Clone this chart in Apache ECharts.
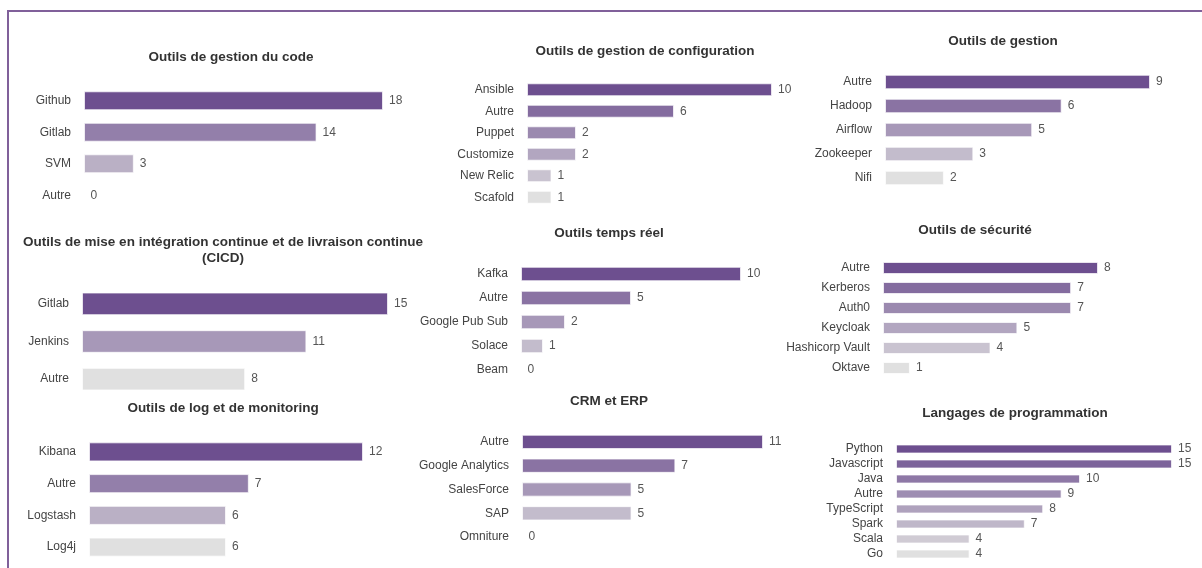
<!DOCTYPE html>
<html>
<head>
<meta charset="utf-8">
<script src="https://cdn.jsdelivr.net/npm/echarts@6/dist/echarts.min.js"></script>
<style>
html,body{margin:0;padding:0;background:#fff;}
#chart{width:1202px;height:568px;}
</style>
</head>
<body>
<div id="chart"></div>
<script>
// ---- Data ----
const titles = [
  'Outils de gestion du code',
  'Outils de gestion de configuration',
  'Outils de gestion',
  'Outils de mise en intégration continue et de livraison continue\n(CICD)',
  'Outils temps réel',
  'Outils de sécurité',
  'Outils de log et de monitoring',
  'CRM et ERP',
  'Langages de programmation'
];
const codeCats = ['Github', 'Gitlab', 'SVM', 'Autre'];
const codeVals = [18, 14, 3, 0];
const confCats = ['Ansible', 'Autre', 'Puppet', 'Customize', 'New Relic', 'Scafold'];
const confVals = [10, 6, 2, 2, 1, 1];
const gestCats = ['Autre', 'Hadoop', 'Airflow', 'Zookeeper', 'Nifi'];
const gestVals = [9, 6, 5, 3, 2];
const cicdCats = ['Gitlab', 'Jenkins', 'Autre'];
const cicdVals = [15, 11, 8];
const rtCats = ['Kafka', 'Autre', 'Google Pub Sub', 'Solace', 'Beam'];
const rtVals = [10, 5, 2, 1, 0];
const secCats = ['Autre', 'Kerberos', 'Auth0', 'Keycloak', 'Hashicorp Vault', 'Oktave'];
const secVals = [8, 7, 7, 5, 4, 1];
const logCats = ['Kibana', 'Autre', 'Logstash', 'Log4j'];
const logVals = [12, 7, 6, 6];
const crmCats = ['Autre', 'Google Analytics', 'SalesForce', 'SAP', 'Omniture'];
const crmVals = [11, 7, 5, 5, 0];
const langCats = ['Python', 'Javascript', 'Java', 'Autre', 'TypeScript', 'Spark', 'Scala', 'Go'];
const langVals = [15, 15, 10, 9, 8, 7, 4, 4];

const panels = [
  [codeCats, codeVals], [confCats, confVals], [gestCats, gestVals],
  [cicdCats, cicdVals], [rtCats, rtVals], [secCats, secVals],
  [logCats, logVals], [crmCats, crmVals], [langCats, langVals]
];

// ---- Layout (positions / sizes) ----
const layout = [
  {left: 84,  top: 85,  width: 299, height: 126, tx: 226,  ty: 44},
  {left: 527, top: 79,  width: 245, height: 129, tx: 640,  ty: 38},
  {left: 885, top: 70,  width: 265, height: 120, tx: 998,  ty: 28},
  {left: 82,  top: 285, width: 306, height: 113, tx: 218,  ty: 229},
  {left: 521, top: 262, width: 220, height: 120, tx: 604,  ty: 220},
  {left: 883, top: 258, width: 215, height: 120, tx: 970,  ty: 217},
  {left: 89,  top: 436, width: 274, height: 127, tx: 218,  ty: 395},
  {left: 522, top: 430, width: 241, height: 119, tx: 604,  ty: 388},
  {left: 896, top: 441.5, width: 276, height: 120, tx: 1010, ty: 400}
];

const dark = [109, 79, 143];
const light = [224, 224, 224];
function shade(i, n) {
  const t = n > 1 ? i / (n - 1) : 0;
  const c = dark.map((d, k) => Math.round(d + (light[k] - d) * t));
  return 'rgb(' + c.join(',') + ')';
}

const FONT = '"Liberation Sans", Arial, Helvetica, sans-serif';
const option = {
  animation: false,
  backgroundColor: '#fff',
  title: [], grid: [], xAxis: [], yAxis: [], series: [],
  graphic: [{
    type: 'rect',
    shape: {x: 8, y: 11, width: 1400, height: 800},
    style: {stroke: '#80609a', fill: 'none', lineWidth: 2},
    silent: true
  }]
};

panels.forEach(([cats, vals], i) => {
  const L = layout[i];
  option.title.push({
    text: titles[i],
    left: L.tx, top: L.ty, textAlign: 'center',
    textStyle: {fontFamily: FONT, fontSize: 13.5, fontWeight: 'bold', color: '#333', lineHeight: 16}
  });
  option.grid.push({left: L.left, top: L.top, width: L.width, height: L.height, containLabel: false});
  option.xAxis.push({
    gridIndex: i, type: 'value', min: 0, max: Math.max(...vals), show: false
  });
  option.yAxis.push({
    gridIndex: i, type: 'category', data: cats, inverse: true,
    axisLine: {show: false}, axisTick: {show: false}, splitLine: {show: false},
    axisLabel: {interval: 0, margin: 13, fontFamily: FONT, fontSize: 12, color: '#444'}
  });
  option.series.push({
    type: 'bar', xAxisIndex: i, yAxisIndex: i,
    barCategoryGap: '40%',
    data: vals.map((v, k) => ({value: v, itemStyle: {color: shade(k, vals.length)}})),
    itemStyle: {borderColor: 'rgba(255,255,255,0.7)', borderWidth: 1},
    label: {show: true, position: 'right', distance: 6, fontFamily: FONT, fontSize: 12, color: '#555'}
  });
});

const chart = echarts.init(document.getElementById('chart'), null, {renderer: 'canvas'});
chart.setOption(option);
</script>
</body>
</html>
